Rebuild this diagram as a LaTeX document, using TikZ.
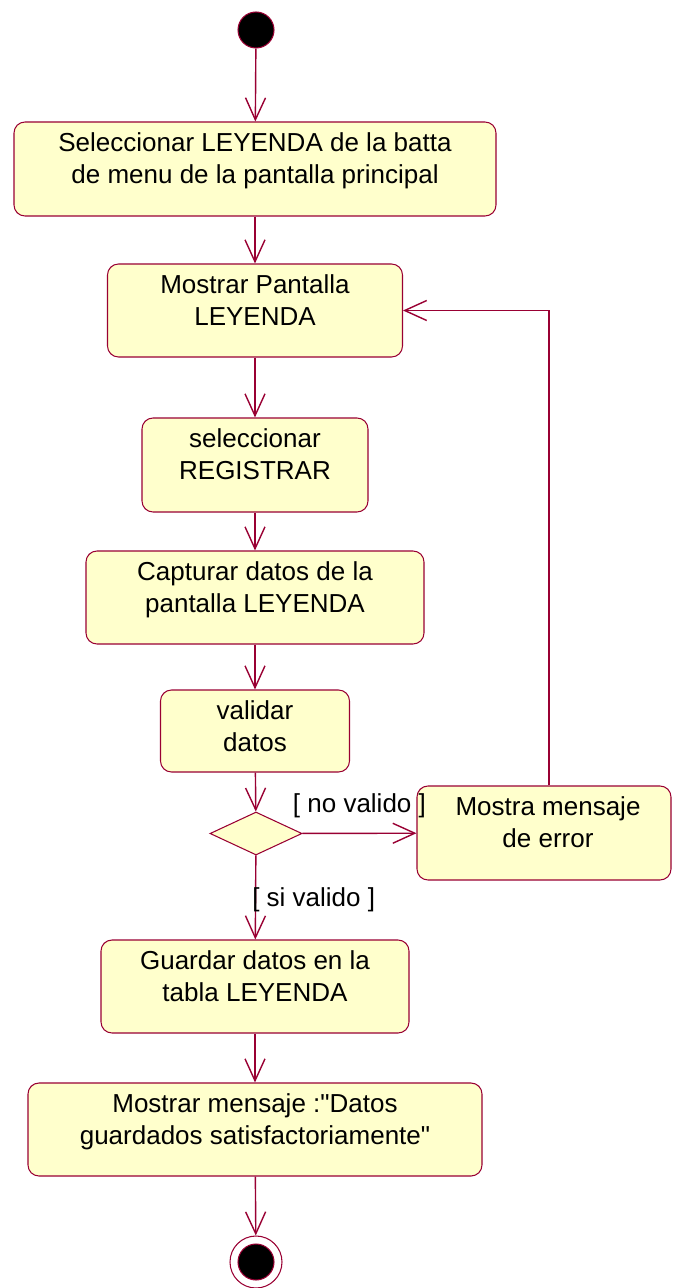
\documentclass[tikz,border=0pt]{standalone}
\usepackage{fontspec}
\setmainfont{Liberation Sans}
\usetikzlibrary{positioning,shapes.geometric,arrows.meta}
\definecolor{rosered}{RGB}{153,0,51}
\definecolor{rosefill}{RGB}{255,255,204}

\begin{document}
\begin{tikzpicture}[act/.style={rectangle, rounded corners=0.22cm, draw=rosered, line width=0.6pt, fill=rosefill, minimum height=1.88cm, inner sep=0pt}, txt/.style={align=center, inner sep=0pt, font=\fontsize{14.8}{18.2}\selectfont}, flow/.style={draw=rosered, line width=0.8pt, -{Straight Barb[length=0.44cm, width=0.4cm]}}, guard/.style={inner sep=0pt, font=\fontsize{14.8}{18.2}\selectfont}]
  \useasboundingbox (0,0) rectangle (13.44,-25.76);
  % start and end
  \node[circle, draw=rosered, fill=black, line width=0.6pt, minimum size=0.72cm, inner sep=0pt] (start) at (5.12,-0.60) {};
  \node[circle, draw=rosered, line width=0.6pt, minimum size=1.04cm, inner sep=0pt] (end) at (5.12,-25.24) {};
  \node[circle, draw=rosered, fill=black, line width=0.6pt, minimum size=0.72cm, inner sep=0pt] (endDot) at (end.center) {};
  % actions
  \node[act, minimum width=9.64cm] (sel) at (5.10,-3.38) {};
  \node[txt, below=0.21cm of sel.north] (selT) {Seleccionar LEYENDA de la batta\\de menu de la pantalla principal};
  \node[act, minimum width=5.90cm, minimum height=1.86cm] (pant) at (5.10,-6.21) {};
  \node[txt, below=0.21cm of pant.north] (pantT) {Mostrar Pantalla\\LEYENDA};
  \node[act, minimum width=4.52cm] (reg) at (5.10,-9.30) {};
  \node[txt, below=0.21cm of reg.north] (regT) {seleccionar\\REGISTRAR};
  \node[act, minimum width=6.76cm, minimum height=1.86cm] (capt) at (5.10,-11.95) {};
  \node[txt, below=0.21cm of capt.north] (captT) {Capturar datos de la\\pantalla LEYENDA};
  \node[act, minimum width=3.78cm, minimum height=1.64cm] (val) at (5.10,-14.62) {};
  \node[txt, below=0.21cm of val.north] (valT) {validar\\datos};
  \node[diamond, draw=rosered, fill=rosefill, line width=0.6pt, minimum width=1.84cm, minimum height=0.86cm, inner sep=0pt] (dec) at (5.12,-16.67) {};
  \node[act, minimum width=5.08cm] (err) at (10.88,-16.66) {};
  \node[txt, below=0.21cm of err.north, xshift=0.08cm] (errT) {Mostra mensaje\\de error};
  \node[act, minimum width=6.16cm, minimum height=1.86cm] (grd) at (5.10,-19.73) {};
  \node[txt, below=0.21cm of grd.north] (grdT) {Guardar datos en la\\tabla LEYENDA};
  \node[act, minimum width=9.08cm, minimum height=1.86cm] (msg) at (5.10,-22.59) {};
  \node[txt, below=0.21cm of msg.north] (msgT) {Mostrar mensaje :\textquotedbl Datos\\guardados satisfactoriamente\textquotedbl};
  % flows
  \draw[flow] (start) -- (sel);
  \draw[flow] (sel) -- (pant);
  \draw[flow] (pant) -- (reg);
  \draw[flow] (reg) -- (capt);
  \draw[flow] (capt) -- (val);
  \draw[flow] (val) -- (dec);
  \draw[flow] (dec) -- node[guard, above=0.3cm] (noG) {[ no valido ]} (err);
  \draw[flow] (dec) -- node[guard, pos=0.53, anchor=west, xshift=-0.08cm] (siG) {[ si valido ]} (grd);
  \draw[flow] ([xshift=0.1cm]err.north) |- (pant.east);
  \draw[flow] (grd) -- (msg);
  \draw[flow] (msg) -- (end);
\end{tikzpicture}
\end{document}
